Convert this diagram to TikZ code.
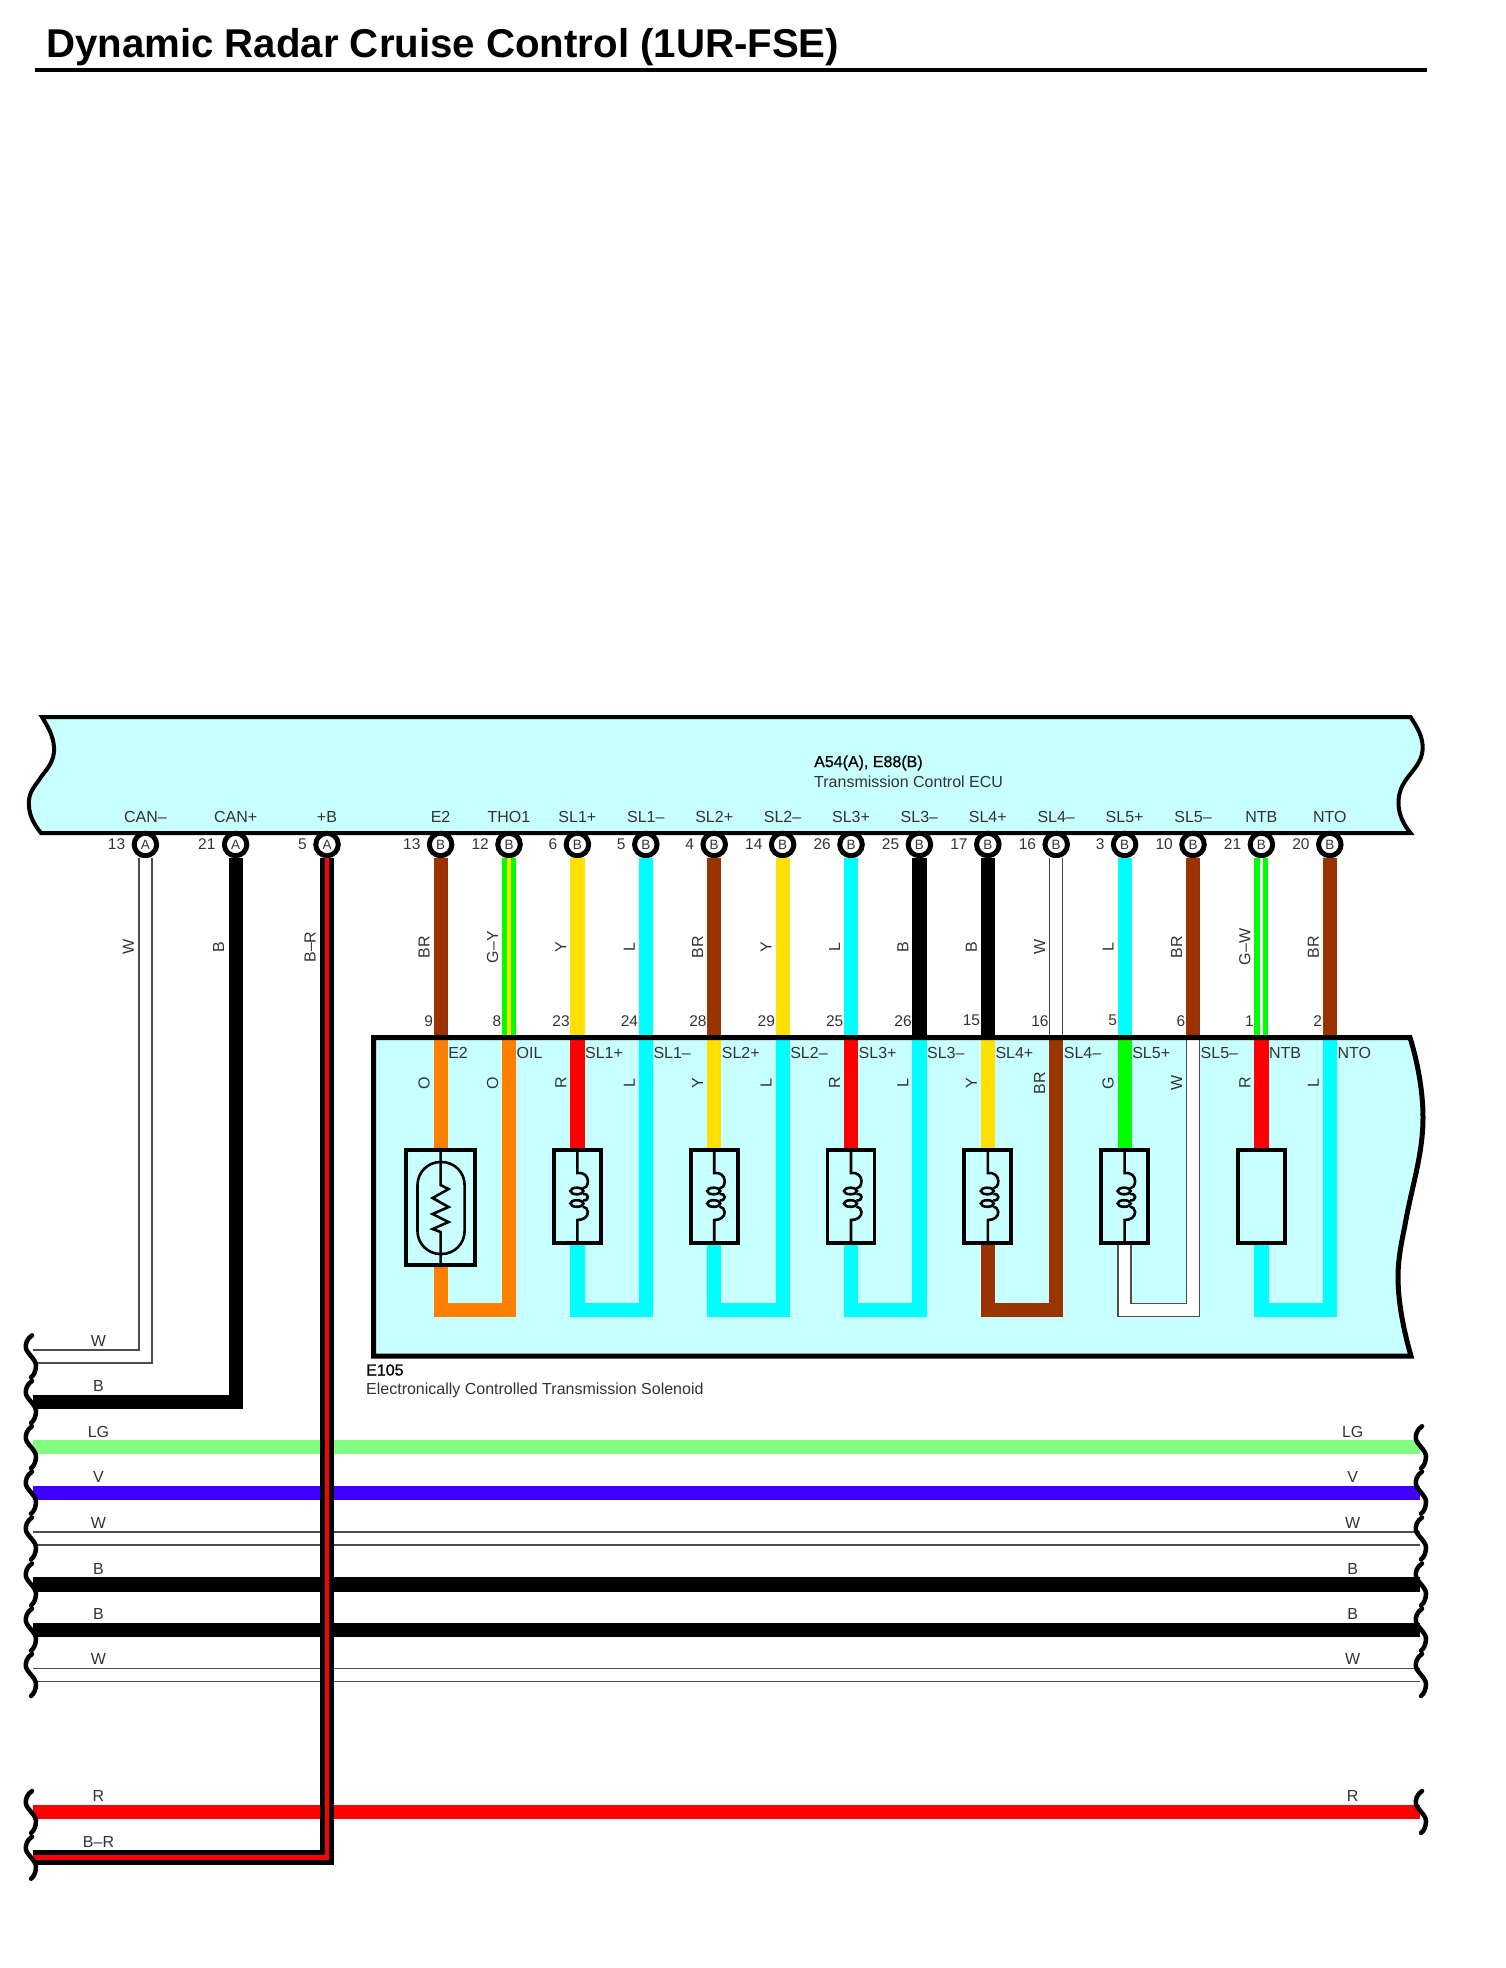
\documentclass[tikz,border=0pt]{standalone}
\usepackage{fontspec}
\setmainfont{Liberation Sans}
\newfontfamily\darkfont[FakeBold=0.8]{Liberation Sans}
\definecolor{ecufill}{HTML}{C8FFFF}
\definecolor{wbrown}{HTML}{993300}
\definecolor{wyellow}{HTML}{FFE000}
\definecolor{wcyan}{HTML}{00FFFF}
\definecolor{wgreen}{HTML}{00FF00}
\definecolor{wlgreen}{HTML}{80FF80}
\definecolor{wviolet}{HTML}{4000FF}
\definecolor{worange}{HTML}{FF8000}
\definecolor{wred}{HTML}{FF0000}
\newcommand{\bodyoutline}{(373.5,1356) -- (373.5,1037.5) -- (1410,1037.5)
  .. controls (1417,1060) and (1423,1090) .. (1423,1117)
  .. controls (1423,1155) and (1412,1185) .. (1405,1225)
  .. controls (1402,1240) and (1398,1258) .. (1398,1277)
  .. controls (1398,1305) and (1405,1335) .. (1411,1356) -- cycle}
\tikzset{
  wire/.style={line width=14.2pt},
  wireBR/.style={wire,draw=wbrown},
  wireY/.style={wire,draw=wyellow},
  wireL/.style={wire,draw=wcyan},
  wireB/.style={wire,draw=black},
  wireO/.style={wire,draw=worange},
  wireR/.style={wire,draw=wred},
  wireG/.style={wire,draw=wgreen},
  wireLG/.style={wire,draw=wlgreen},
  wireV/.style={wire,draw=wviolet},
  wireW/.style={draw=black!70,line width=1.4pt,double=white,double distance=11.5pt},
  wireGY/.style={draw=wgreen,line width=5pt,double=wyellow,double distance=4.5pt},
  wireGW/.style={draw=wgreen,line width=5.5pt,double=white,double distance=3pt},
  wireBRed/.style={draw=black,line width=5pt,double=wred,double distance=4.5pt},
  txt/.style={inner sep=0pt,text=black!80,font=\fontsize{16}{18}\selectfont},
  txtdark/.style={txt,text=black,font=\darkfont\fontsize{16}{18}\selectfont},
  txtrot/.style={txt,rotate=90},
  numtxt/.style={txt,font=\fontsize{15.5}{18}\selectfont},
  pinnode/.style={circle,draw=black,fill=white,line width=5pt,minimum size=22.5pt,inner sep=0pt,
    text=black!80,font=\fontsize{13.5}{16}\selectfont},
  solbox/.style={rectangle,draw=black,fill=ecufill,line width=3.8pt,minimum width=47pt,minimum height=92.5pt},
  thbox/.style={solbox,minimum width=69pt,minimum height=115pt},
  inner/.style={draw=black,line width=2.6pt},
  breakline/.style={draw=black,line width=4.5pt,line cap=round},
  wavebreak/.pic={\draw[breakline] (2,-21) .. controls (-3,-18) and (-5,-12) .. (-4,-8)
    .. controls (-3,-3) and (6,3) .. (6,9) .. controls (6,14) and (4,19) .. (1,21);}
}
\begin{document}
\begin{tikzpicture}[x=1pt,y=-1pt]
  \useasboundingbox (0,0) rectangle (1506,1968);
  \node[anchor=base west,inner sep=0pt,font=\fontsize{40.2}{42}\selectfont\bfseries] (title) at (46,57) {Dynamic Radar Cruise Control (1UR-FSE)};
  \coordinate (ruleL) at (34.5,70);
  \coordinate (ruleR) at (1427,70);
  \draw[line width=4.5pt] (ruleL) -- (ruleR);

  \filldraw[fill=ecufill,draw=black,line width=4pt] (42,717) -- (1410.5,717)
    .. controls (1417,727) and (1423.5,737) .. (1422.6,750)
    .. controls (1421.5,762) and (1414,769) .. (1408,777)
    .. controls (1402,785) and (1398.5,792) .. (1398.5,803)
    .. controls (1398.5,815) and (1404,825) .. (1410.5,833) -- (41,833)
    .. controls (32,822) and (28,812) .. (29,800)
    .. controls (30,790) and (36,785) .. (41,777)
    .. controls (48,768) and (55,760) .. (54,747)
    .. controls (53,735) and (48,727) .. (42,717) -- cycle;
  \node[txtdark,anchor=west] (ecucode) at (814,763) {A54(A), E88(B)};
  \node[txt,anchor=west] (ecuname) at (814,781.7) {Transmission Control ECU};

  \foreach \x/\n/\term/\conn/\num/\ws/\wl in {
    145.4/canm/CAN–/A/13/wireW/W,
    235.6/canp/CAN+/A/21/wireB/B,
    327/plusb/+B/A/5/wireBRed/B–R}{
    \node[txt] (lab\n) at (\x,816.7) {\term};
    \node[pinnode] (pin\n) at (\x,844.5) {\conn};
    \node[numtxt,anchor=east] (num\n) at (\x-20,844) {\num};
    \node[txtrot] (col\n) at (\x-17,947) {\wl};
  }
  \coordinate (bodytop) at (373.5,1037.5);
  \foreach \x/\n/\term/\inner/\num/\ws/\wl/\bn/\il in {
    440.6/a/E2/E2/13/wireBR/BR/9/O,
    509/b/THO1/OIL/12/wireGY/G–Y/8/O,
    577.4/c/SL1+/SL1+/6/wireY/Y/23/R,
    645.8/d/SL1–/SL1–/5/wireL/L/24/L,
    714.2/e/SL2+/SL2+/4/wireBR/BR/28/Y,
    782.6/f/SL2–/SL2–/14/wireY/Y/29/L,
    851/g/SL3+/SL3+/26/wireL/L/25/R,
    919.4/h/SL3–/SL3–/25/wireB/B/26/L,
    987.8/i/SL4+/SL4+/17/wireB/B/15/Y,
    1056.2/j/SL4–/SL4–/16/wireW/W/16/BR,
    1124.6/k/SL5+/SL5+/3/wireL/L/5/G,
    1193/l/SL5–/SL5–/10/wireBR/BR/6/W,
    1261.4/m/NTB/NTB/21/wireGW/G–W/1/R,
    1329.8/n/NTO/NTO/20/wireBR/BR/2/L}{
    \node[txt] (lab\n) at (\x,816.7) {\term};
    \node[pinnode] (pin\n) at (\x,844.5) {B};
    \node[numtxt,anchor=east] (num\n) at (\x-20,844) {\num};
    \draw[\ws] (pin\n.south) -- (pin\n.south |- bodytop);
    \node[txtrot] (col\n) at (\x-16.5,947) {\wl};
    \node[numtxt,anchor=east] (bot\n) at (\x-7.5,1020.7) {\bn};
  }

  \fill[ecufill] \bodyoutline;
  \node[thbox] (tha) at (440.6,1207.7) {};
  \draw[wireO] (tha.north |- bodytop) -- (tha.north);
  \draw[wireO] (tha.south) |- (509,1310) -- (pinb.south |- bodytop);
  \foreach \i/\x/\xr/\up/\down in {
    c/577.4/645.8/wireR/wireL,
    e/714.2/782.6/wireY/wireL,
    g/851/919.4/wireR/wireL,
    i/987.8/1056.2/wireY/wireBR,
    k/1124.6/1193/wireG/wireW}{
    \node[solbox] (sol\i) at (\x,1196.5) {};
    \draw[\up] (sol\i.north |- bodytop) -- (sol\i.north);
    \draw[\down] (sol\i.south) |- (\xr,1310) -- (\xr,1037.5);
    \draw[inner] (sol\i.north) -- (\x,1173)
      .. controls (6+\x,1172) and (10.5+\x,1176) .. (10.5+\x,1181)
      .. controls (10.5+\x,1186) and (8+\x,1188) .. (5.5+\x,1188.5);
    \draw[inner] (5.5+\x,1194) .. controls (9+\x,1194) and (10.5+\x,1195) .. (10.5+\x,1197)
      .. controls (10.5+\x,1199) and (9+\x,1200.5) .. (5.5+\x,1200.5);
    \draw[inner] (5.5+\x,1206.5) .. controls (8+\x,1207) and (10.5+\x,1209) .. (10.5+\x,1212)
      .. controls (10.5+\x,1217) and (6+\x,1220) .. (\x,1220) -- (sol\i.south);
    \draw[inner] (\x-0.5,1191) ellipse (6.5 and 3.3);
    \draw[inner] (\x-0.5,1203.5) ellipse (6.5 and 3.3);
  }
  \node[solbox] (ntb) at (1261.4,1196.5) {};
  \draw[wireR] (ntb.north |- bodytop) -- (ntb.north);
  \draw[wireL] (ntb.south) |- (1329.8,1310) -- (1329.8,1037.5);

  \draw[inner] (tha.north) -- (440.6,1185) -- (448.6,1189) -- (432.6,1198) -- (448.6,1207) -- (432.6,1214)
    -- (448.6,1222) -- (432.6,1229) -- (440.6,1232) -- (tha.south);
  \draw[inner] (417.5,1162) [rounded corners=23pt] rectangle (464.6,1254);

  \foreach \x/\n/\inner/\il in {
    440.6/a/E2/O, 509/b/OIL/O, 577.4/c/SL1+/R, 645.8/d/SL1–/L, 714.2/e/SL2+/Y,
    782.6/f/SL2–/L, 851/g/SL3+/R, 919.4/h/SL3–/L, 987.8/i/SL4+/Y, 1056.2/j/SL4–/BR,
    1124.6/k/SL5+/G, 1193/l/SL5–/W, 1261.4/m/NTB/R, 1329.8/n/NTO/L}{
    \node[txt,anchor=west] (term\n) at (\x+7.5,1052.7) {\inner};
    \node[txtrot] (low\n) at (\x-16.5,1083) {\il};
  }
  \draw[draw=black,line width=5pt] \bodyoutline;
  \node[txtdark,anchor=west] (solcode) at (366,1370) {E105};
  \node[txt,anchor=west] (solname) at (366,1390) {Electronically Controlled Transmission Solenoid};

  \foreach \y/\n/\lab in {
    1356.4/cw/W, 1402/cb/B, 1447.3/lg/LG, 1492.7/vv/V, 1538.5/wa/W, 1584.5/ba/B,
    1629.7/bb/B, 1675/wb/W, 1812/rr/R, 1857.7/br/B–R}{
    \coordinate (end\n) at (33,\y);
    \node[txt] (tag\n) at (98.5,\y-15.8) {\lab};
  }
  \foreach \y/\n/\ws/\lab in {
    1447.3/lg/wireLG/LG, 1492.7/vv/wireV/V, 1538.5/wa/wireW/W, 1584.5/ba/wireB/B,
    1629.7/bb/wireB/B, 1675/wb/wireW/W, 1812/rr/wireR/R}{
    \coordinate (right\n) at (1420,\y);
    \draw[\ws] (end\n) -- (right\n);
    \node[txt] (rtag\n) at (1352.7,\y-15.8) {\lab};
    \pic at (1420,\y) {wavebreak};
  }
  \draw[wireW] (pincanm.south) |- (endcw);
  \draw[wireB] (pincanp.south) |- (endcb);
  \draw[wireBRed] (pinplusb.south) |- (endbr);
  \foreach \n in {cw,cb,lg,vv,wa,ba,bb,wb,rr,br}{
    \pic at (end\n) [xshift=-3pt] {wavebreak};
  }
\end{tikzpicture}
\end{document}
